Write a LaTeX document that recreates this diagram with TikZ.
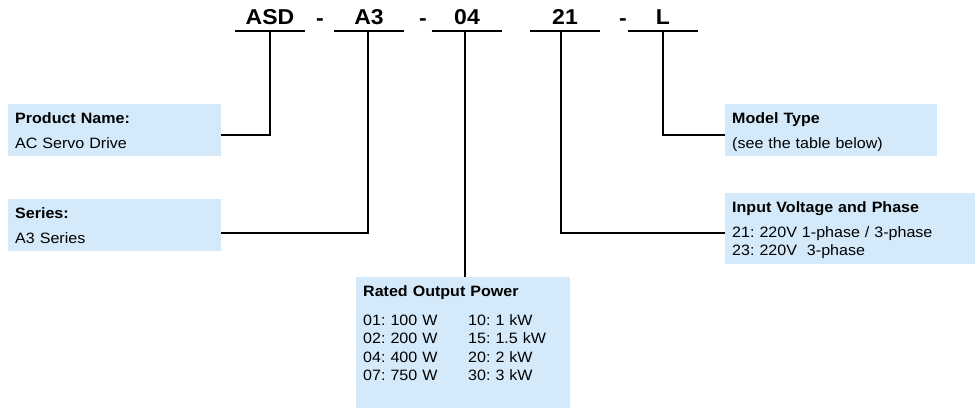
\documentclass[tikz,border=0pt]{standalone}
\usepackage{fontspec}
\setmainfont{Liberation Sans}[FakeStretch=1.07]
\usepackage{tikz}
\definecolor{boxblue}{RGB}{212,234,250}
\frenchspacing
\tikzset{
    code/.style={font=\fontsize{21.5}{21.5}\selectfont\bfseries, minimum width=70pt, inner xsep=0pt, inner ysep=6pt, text depth=0pt, anchor=south},
    sep/.style={font=\fontsize{21.5}{21.5}\selectfont\bfseries, inner sep=0pt, anchor=base},
    infobox/.style={fill=boxblue, anchor=north west, align=left, inner xsep=7pt, inner ysep=8pt, font=\fontsize{15}{18.5}\selectfont},
    link/.style={line width=1.6pt}
}

\begin{document}
\begin{tikzpicture}[x=1pt,y=-1pt]
                    \useasboundingbox (0,0) rectangle (979,415);

                    \node[code] (asd) at (270,31) {ASD};
                    \node[sep] (dasha) at (320,25) {-};
                    \node[code] (a3) at (369,31) {A3};
                    \node[sep] (dashb) at (423,25) {-};
                    \node[code] (pw) at (467,31) {04};
                    \node[code] (ph) at (565,31) {21};
                    \node[sep] (dashc) at (623,25) {-};
                    \node[code] (mt) at (663,31) {L};

                    \foreach \c in {asd,a3,pw,ph,mt}
                        \draw[link] (\c.south west) -- (\c.south east);

                    \node[infobox, text width=199pt] (prod) at (8,104) {\textbf{Product Name:}\\[6.5pt]AC Servo Drive};
                    \node[infobox, text width=199pt] (series) at (8,199) {\textbf{Series:}\\[6.5pt]A3 Series};
                    \node[infobox, text width=198pt] (model) at (725,104) {\textbf{Model Type}\\[6.5pt]\smash{(see the table below)}};
                    \node[infobox, text width=236pt] (input) at (725,193) {\textbf{Input Voltage and Phase}\\[6.5pt]21: 220V 1-phase / 3-phase\\\smash{23: 220V\ \ 3-phase}};
                    \node[infobox, text width=200pt] (rated) at (356,277) {\textbf{Rated Output Power}\\[10.5pt]
                        \makebox[105pt][l]{01: 100 W}10: 1 kW\\
                        \makebox[105pt][l]{02: 200 W}15: 1.5 kW\\
                        \makebox[105pt][l]{04: 400 W}20: 2 kW\\
                        \makebox[105pt][l]{07: 750 W}30: 3 kW\rule[-19pt]{0pt}{19pt}};

                    \draw[link] (asd.south) |- ([yshift=-5pt]prod.east);
                    \draw[link] ([xshift=-1pt]a3.south) |- ([yshift=-8pt]series.east);
                    \draw[link] ([xshift=-2pt]pw.south) -- ([xshift=-2pt]pw.south |- rated.north);
                    \draw[link] ([xshift=-4pt]ph.south) |- ([yshift=-4.5pt]input.west);
                    \draw[link] (mt.south) |- ([yshift=-5pt]model.west);
\end{tikzpicture}
\end{document}
